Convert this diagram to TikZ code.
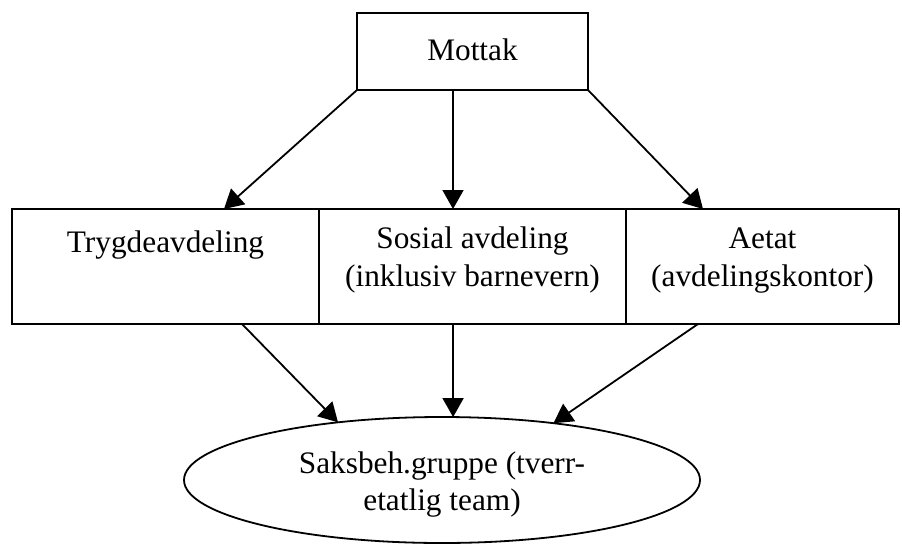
\documentclass[tikz,border=0pt]{standalone}
\usepackage{fontspec}
\setmainfont{Liberation Serif}
\usetikzlibrary{arrows.meta,shapes.geometric}

% two centred lines whose box baseline is the first line
\newcommand{\twolines}[2]{\begin{tabular}[t]{@{}c@{}}#1\\#2\end{tabular}}

\begin{document}
\begin{tikzpicture}[x=1pt,y=-1pt,
  every node/.style={inner sep=0pt, outer sep=0pt},
  unit/.style={draw, line width=1.8pt, rectangle, minimum height=115pt,
    text height=0pt, font=\fontsize{31.3}{38.5}\selectfont},
  topbox/.style={draw, line width=1.8pt, rectangle, minimum width=231pt,
    minimum height=77pt, text height=17pt, text depth=0pt,
    font=\fontsize{31.3}{38.5}\selectfont},
  team/.style={draw, line width=1.8pt, ellipse, minimum width=516pt,
    minimum height=126pt, text height=0pt, text depth=13.4pt,
    font=\fontsize{31.3}{37}\selectfont},
  arr/.style={line width=1.8pt, -{Triangle[length=19pt,width=21pt]}}]

\useasboundingbox (0,0) rectangle (902,544);

% reception at the top
\node[topbox] (mottak) at (472.5,51.5) {Mottak};

% the three departments side by side
\node[unit, minimum width=307pt, text depth=29pt] (trygd) at (165.5,266.5)
  {Trygdeavdeling};
\node[unit, minimum width=307pt, text depth=37pt] (sosial) at (472.5,266.5)
  {\twolines{Sosial avdeling}{(inklusiv barnevern)}};
\node[unit, minimum width=273pt, text depth=37pt] (aetat) at (762.5,266.5)
  {\twolines{Aetat}{(avdelingskontor)}};

% the cross-agency case team
\node[team] (sak) at (442,480)
  {\twolines{Saksbeh.gruppe (tverr-}{etatlig team)}};

% reception to departments
\draw[arr] (mottak.south west) -- ([xshift=58.5pt]trygd.north);
\draw[arr] ([xshift=-19.5pt]mottak.south) -- ([xshift=-19.5pt]sosial.north);
\draw[arr] (mottak.south east) -- ([xshift=-59.5pt]aetat.north);

% departments to the team
\draw[arr] ([xshift=76.5pt]trygd.south) -- (sak.151);
\draw[arr] ([xshift=-19.5pt]sosial.south) -- (sak.80.1);
\draw[arr] ([xshift=-64.5pt]aetat.south) -- (sak.27.9);
\end{tikzpicture}
\end{document}
